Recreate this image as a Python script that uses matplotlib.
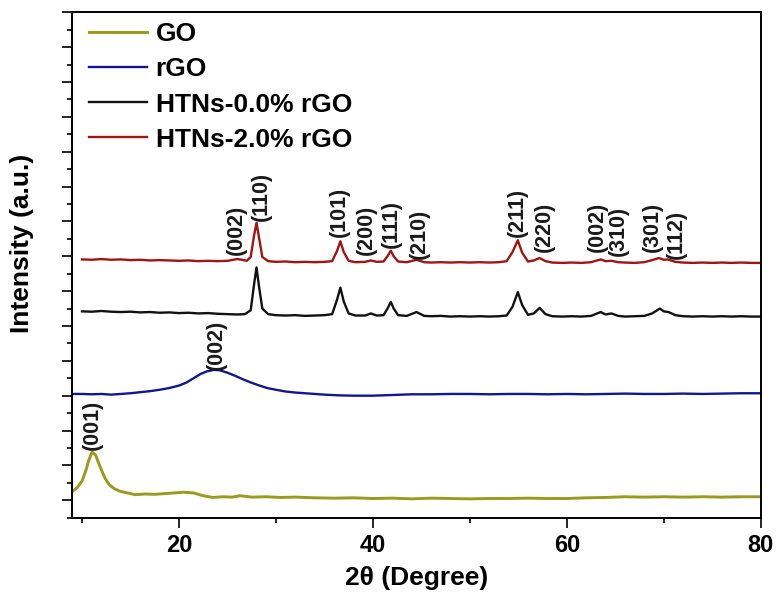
import matplotlib
matplotlib.use("Agg")
import matplotlib.pyplot as plt
from matplotlib.ticker import MultipleLocator, FixedLocator, NullFormatter

plt.rcParams['font.family'] = ['Liberation Sans', 'DejaVu Sans']

# ---------------- data ----------------
go_x = [9.0, 9.5, 10.0, 10.4, 10.7, 11.05, 11.4, 11.7, 12.0, 12.4, 12.8, 13.3, 13.8, 14.5,
        15.5, 16.5, 17.5, 18.5, 19.5, 20.5, 21.5, 22.5, 23.5, 24.5, 25.5, 26.3, 27.5, 29,
        30.5, 32, 34, 36, 38, 40, 42, 44, 46, 48, 50, 52, 54, 56, 58, 60, 62, 64, 66, 68,
        70, 72, 74, 76, 78, 80]
go_y = [0.25, 0.36, 0.55, 0.85, 1.15, 1.38, 1.30, 1.08, 0.87, 0.62, 0.45, 0.34, 0.27, 0.22,
        0.16, 0.18, 0.17, 0.19, 0.21, 0.23, 0.21, 0.13, 0.08, 0.10, 0.09, 0.13, 0.09, 0.10,
        0.08, 0.09, 0.07, 0.06, 0.07, 0.05, 0.06, 0.04, 0.06, 0.05, 0.04, 0.05, 0.05, 0.06,
        0.05, 0.05, 0.07, 0.08, 0.10, 0.09, 0.10, 0.09, 0.10, 0.09, 0.10, 0.10]

rgo_x = [9, 10, 11, 12, 13, 14, 15, 16, 17, 18, 19, 20, 20.8, 21.5, 22.2, 22.9, 23.6, 24.2,
         25.0, 25.8, 26.6, 27.4, 28.2, 29.1, 30, 31, 32, 33.5, 35, 36.5, 38, 40, 42, 44, 46,
         48, 50, 52, 54, 56, 58, 60, 62, 64, 66, 68, 70, 72, 74, 76, 78, 80]
rgo_y = [3.05, 3.05, 3.04, 3.05, 3.03, 3.05, 3.07, 3.10, 3.13, 3.17, 3.22, 3.29, 3.38, 3.50,
         3.62, 3.70, 3.74, 3.73, 3.66, 3.57, 3.47, 3.38, 3.30, 3.22, 3.17, 3.12, 3.09, 3.06,
         3.03, 3.01, 3.00, 3.00, 3.02, 3.04, 3.04, 3.05, 3.05, 3.04, 3.05, 3.05, 3.04, 3.05,
         3.04, 3.05, 3.06, 3.05, 3.05, 3.06, 3.05, 3.06, 3.07, 3.07]

htn0_x = [10.0, 11, 12, 13, 14, 15, 16, 17, 18, 19, 20, 21, 22, 23, 24, 25, 26, 26.8, 27.4,
          27.75, 28.0, 28.25, 28.6, 29.2, 30, 31, 32, 33, 34, 35, 35.8, 36.3, 36.65, 37.0,
          37.5, 38.2, 39.2, 39.8, 40.4, 41.1, 41.55, 41.85, 42.15, 42.6, 43.5, 44.5, 45.3,
          46, 47, 48, 49, 50, 51, 52, 53, 53.8, 54.4, 54.95, 55.4, 56.0, 56.6, 57.2, 57.8,
          58.5, 59.5, 60.5, 61.5, 62.5, 63.5, 64.0, 64.6, 65.3, 66, 67, 68, 68.8, 69.6, 70.0,
          70.5, 71.2, 72, 73, 74, 75, 76, 77, 78, 79, 80]
htn0_y = [5.42, 5.41, 5.43, 5.41, 5.40, 5.41, 5.39, 5.40, 5.38, 5.39, 5.37, 5.38, 5.36, 5.37,
          5.35, 5.34, 5.33, 5.34, 5.45, 6.20, 6.68, 6.15, 5.50, 5.34, 5.31, 5.30, 5.31, 5.29,
          5.30, 5.31, 5.34, 5.75, 6.10, 5.70, 5.36, 5.30, 5.30, 5.36, 5.30, 5.31, 5.52, 5.69,
          5.50, 5.31, 5.29, 5.40, 5.29, 5.28, 5.29, 5.27, 5.28, 5.27, 5.28, 5.27, 5.28, 5.30,
          5.55, 5.97, 5.60, 5.32, 5.36, 5.52, 5.34, 5.28, 5.27, 5.28, 5.27, 5.29, 5.40, 5.33,
          5.36, 5.29, 5.27, 5.28, 5.29, 5.36, 5.50, 5.42, 5.40, 5.31, 5.28, 5.27, 5.28, 5.27,
          5.28, 5.27, 5.28, 5.27, 5.27]

htn2_x = [10.0, 11, 12, 13, 14, 15, 16, 17, 18, 19, 20, 21, 22, 23, 24, 25, 26.0, 26.5, 27.0,
          27.4, 27.75, 28.0, 28.25, 28.6, 29.2, 30, 31, 32, 33, 34, 35, 35.8, 36.3, 36.65,
          37.0, 37.5, 38.2, 39.2, 39.8, 40.4, 41.1, 41.55, 41.85, 42.15, 42.6, 43.5, 44.5,
          45.3, 46, 47, 48, 49, 50, 51, 52, 53, 53.8, 54.4, 54.95, 55.4, 56.0, 56.6, 57.2,
          57.8, 58.5, 59.5, 60.5, 61.5, 62.5, 63.5, 64.0, 64.6, 65.3, 66, 67, 68, 68.8, 69.5,
          70.0, 70.4, 71.2, 72, 73, 74, 75, 76, 77, 78, 79, 80]
htn2_y = [6.91, 6.90, 6.92, 6.90, 6.91, 6.89, 6.90, 6.88, 6.89, 6.88, 6.87, 6.88, 6.86, 6.87,
          6.86, 6.87, 6.92, 6.90, 6.87, 6.98, 7.60, 7.96, 7.55, 6.98, 6.86, 6.84, 6.85, 6.83,
          6.84, 6.83, 6.84, 6.86, 7.15, 7.43, 7.12, 6.87, 6.83, 6.84, 6.88, 6.84, 6.85, 7.02,
          7.16, 7.00, 6.85, 6.83, 6.90, 6.83, 6.82, 6.83, 6.82, 6.83, 6.82, 6.83, 6.82, 6.83,
          6.86, 7.12, 7.46, 7.10, 6.85, 6.88, 6.95, 6.86, 6.82, 6.81, 6.82, 6.81, 6.83, 6.91,
          6.86, 6.87, 6.83, 6.82, 6.81, 6.83, 6.89, 6.95, 6.90, 6.91, 6.84, 6.82, 6.81, 6.82,
          6.81, 6.82, 6.81, 6.82, 6.81, 6.81]

series_labels = ['GO', 'rGO', 'HTNs-0.0% rGO', 'HTNs-2.0% rGO']
series_colors = ['#9a9a1c', '#16168c', '#111111', '#a01414']

# peak annotations: label, x position, bottom y of text
peak_labels = ['(002)', '(110)', '(101)', '(200)', '(111)', '(210)', '(211)', '(220)',
               '(002)', '(310)', '(301)', '(112)', '(002)', '(001)']
peak_x = [25.9, 28.5, 36.5, 39.3, 41.9, 44.8, 54.9, 57.7, 63.2, 65.3, 68.8, 71.3, 23.85, 11.1]
peak_y = [7.05, 8.00, 7.54, 7.05, 7.25, 6.91, 7.54, 7.11, 7.11, 7.00, 7.11, 6.91, 3.75, 1.45]

x_major = [20, 40, 60, 80]
x_minor = [10, 30, 50, 70]

# ---------------- figure ----------------
fig = plt.figure(figsize=(7.79, 6.0), dpi=100)
ax = fig.add_axes([0.0928, 0.1372, 0.8837, 0.8423])

lw = 1.7
ax.plot(go_x, go_y, color=series_colors[0], lw=2.1, label=series_labels[0])
ax.plot(rgo_x, rgo_y, color=series_colors[1], lw=lw, label=series_labels[1])
ax.plot(htn0_x, htn0_y, color=series_colors[2], lw=lw, label=series_labels[2])
ax.plot(htn2_x, htn2_y, color=series_colors[3], lw=lw, label=series_labels[3])

for lab, px, py in zip(peak_labels, peak_x, peak_y):
    ax.text(px, py, lab, rotation=90, ha='center', va='bottom', fontsize=15.5,
            fontweight='bold', color='#1a1a1a')

ax.set_xlim(9.0, 80)
ax.set_ylim(-0.5, 14.0)

ax.xaxis.set_major_locator(FixedLocator(x_major))
ax.xaxis.set_minor_locator(FixedLocator(x_minor))
ax.yaxis.set_major_locator(MultipleLocator(1))
ax.yaxis.set_minor_locator(MultipleLocator(0.5))
ax.yaxis.set_major_formatter(NullFormatter())

ax.tick_params(axis='both', which='major', direction='out', length=7, width=1.2)
ax.tick_params(axis='both', which='minor', direction='out', length=3.5, width=1.2)
ax.tick_params(axis='x', which='major', labelsize=17, pad=5)
for t in ax.get_xticklabels():
    t.set_fontweight('bold')
ax.tick_params(top=False, right=False)

for s in ax.spines.values():
    s.set_linewidth(1.4)

ax.set_xlabel('2θ (Degree)', fontsize=19, fontweight='bold', labelpad=6)
ax.set_ylabel('Intensity (a.u.)', fontsize=19, fontweight='bold')
ax.yaxis.set_label_coords(-0.056, 0.5435)

leg = ax.legend(loc='upper left', bbox_to_anchor=(0.024, 0.98), frameon=False,
                borderaxespad=0, borderpad=0, handlelength=2.2, handletextpad=0.33,
                labelspacing=0.42, prop={'size': 19, 'weight': 'bold'})

fig.savefig('out.png', dpi=100)
